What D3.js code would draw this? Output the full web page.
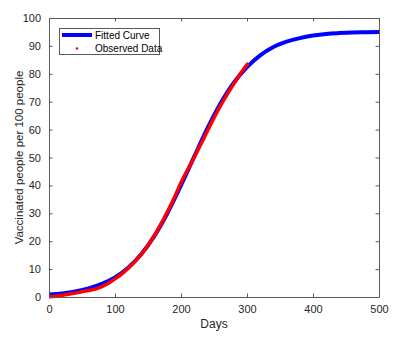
<!DOCTYPE html>
<html>
<head>
<meta charset="utf-8">
<script src="https://cdn.jsdelivr.net/npm/d3@7"></script>
<style>
  body { margin: 0; background: #fff; }
  svg text { font-family: "Liberation Sans", Arial, sans-serif; }
</style>
</head>
<body>
<div id="chart"></div>
<script>
// fitted logistic curve, read every 20 days
const fitDays = [0, 20, 40, 60, 80, 100, 120, 140, 160, 180, 200, 220, 240, 260, 280, 300,
    320, 340, 360, 380, 400, 420, 440, 460, 480, 500];
const fitValues = [0.9, 1.3, 2.0, 3.1, 4.7, 7.0, 10.5, 15.4, 22.0, 30.3, 40.0, 50.3, 60.4, 69.4,
    76.8, 82.4, 86.6, 89.6, 91.5, 92.8, 93.7, 94.3, 94.6, 94.8, 94.9, 95.0];

// observed data, read every 10 days
const obsDays = [0, 10, 20, 30, 40, 50, 60, 70, 80, 90, 100, 110, 120, 130, 140, 150, 160, 170,
    180, 190, 200, 210, 220, 230, 240, 250, 260, 270, 280, 290, 300, 302];
const obsValues = [0.1, 0.3, 0.6, 1.0, 1.4, 1.9, 2.3, 2.8, 3.7, 4.9, 6.5, 8.2, 10.3, 12.7, 15.4,
    18.5, 22.2, 26.3, 30.8, 35.7, 41.0, 45.6, 50.0, 54.7, 59.5, 64.2, 68.6, 72.6, 76.4, 80.0, 83.3, 83.8];

const xTicks = [0, 100, 200, 300, 400, 500];
const yTicks = [0, 10, 20, 30, 40, 50, 60, 70, 80, 90, 100];
const legendLabels = ['Fitted Curve', 'Observed Data'];

const WIDTH = 395;
const HEIGHT = 338;
const LEFT = 49, RIGHT = 379, TOP = 18, BOTTOM = 297;
const AXIS_COLOR = '#5a5a5a';
const TICK_LEN = 3.5;

const svg = d3.select('#chart').append('svg')
    .attr('width', WIDTH)
    .attr('height', HEIGHT);

const x = d3.scaleLinear().domain([0, 500]).range([LEFT, RIGHT]);
const y = d3.scaleLinear().domain([0, 100]).range([BOTTOM, TOP]);

// 曲线
const line = d3.line()
    .x(d => x(d[0]))
    .y(d => y(d[1]))
    .curve(d3.curveMonotoneX);

const plot = svg.append('g');

plot.append('path')
    .attr('fill', 'none')
    .attr('stroke', '#0000ff')
    .attr('stroke-width', 4)
    .attr('d', line(fitDays.map((d, i) => [d, fitValues[i]])));

plot.append('path')
    .attr('fill', 'none')
    .attr('stroke', '#ff0000')
    .attr('stroke-width', 3.5)
    .attr('d', line(obsDays.map((d, i) => [d, obsValues[i]])));

// 坐标轴 (box, ticks pointing in)
svg.append('g')
    .attr('transform', 'translate(0,' + BOTTOM + ')')
    .call(d3.axisBottom(x).tickValues(xTicks).tickSizeInner(-TICK_LEN).tickSizeOuter(0).tickPadding(8));
svg.append('g')
    .attr('transform', 'translate(0,' + TOP + ')')
    .call(d3.axisTop(x).tickValues(xTicks).tickSizeInner(-TICK_LEN).tickSizeOuter(0).tickFormat(''));
svg.append('g')
    .attr('transform', 'translate(' + LEFT + ',0)')
    .call(d3.axisLeft(y).tickValues(yTicks).tickSizeInner(-TICK_LEN).tickSizeOuter(0).tickPadding(8));
svg.append('g')
    .attr('transform', 'translate(' + RIGHT + ',0)')
    .call(d3.axisRight(y).tickValues(yTicks).tickSizeInner(-TICK_LEN).tickSizeOuter(0).tickFormat(''));

svg.selectAll('.domain').attr('stroke', AXIS_COLOR);
svg.selectAll('.tick line').attr('stroke', AXIS_COLOR);
svg.selectAll('.tick text')
    .attr('fill', '#262626')
    .attr('font-size', 11)
    .style('font-family', '"Liberation Sans", Arial, sans-serif');

// 轴标题
svg.append('text')
    .attr('x', (LEFT + RIGHT) / 2)
    .attr('y', 328)
    .attr('text-anchor', 'middle')
    .attr('font-size', 12)
    .attr('fill', '#262626')
    .text('Days');

svg.append('text')
    .attr('transform', 'translate(23,' + (TOP + BOTTOM) / 2 + ') rotate(-90)')
    .attr('text-anchor', 'middle')
    .attr('font-size', 11.5)
    .attr('fill', '#262626')
    .text('Vaccinated people per 100 people');

// 图例
const legend = svg.append('g');
legend.append('rect')
    .attr('x', 59.5).attr('y', 28.5)
    .attr('width', 100).attr('height', 26)
    .attr('fill', '#fff')
    .attr('stroke', AXIS_COLOR);
legend.append('line')
    .attr('x1', 62).attr('x2', 92)
    .attr('y1', 35).attr('y2', 35)
    .attr('stroke', '#0000ff')
    .attr('stroke-width', 4);
legend.append('circle')
    .attr('cx', 77).attr('cy', 48.5)
    .attr('r', 1.3)
    .attr('fill', '#ff0000');
legend.selectAll('text.lab')
    .data(legendLabels)
    .enter().append('text')
    .attr('class', 'lab')
    .attr('x', 95)
    .attr('y', (d, i) => 35 + i * 13.5)
    .attr('dy', '0.35em')
    .attr('font-size', 10)
    .attr('fill', '#000')
    .text(d => d);
</script>
</body>
</html>
